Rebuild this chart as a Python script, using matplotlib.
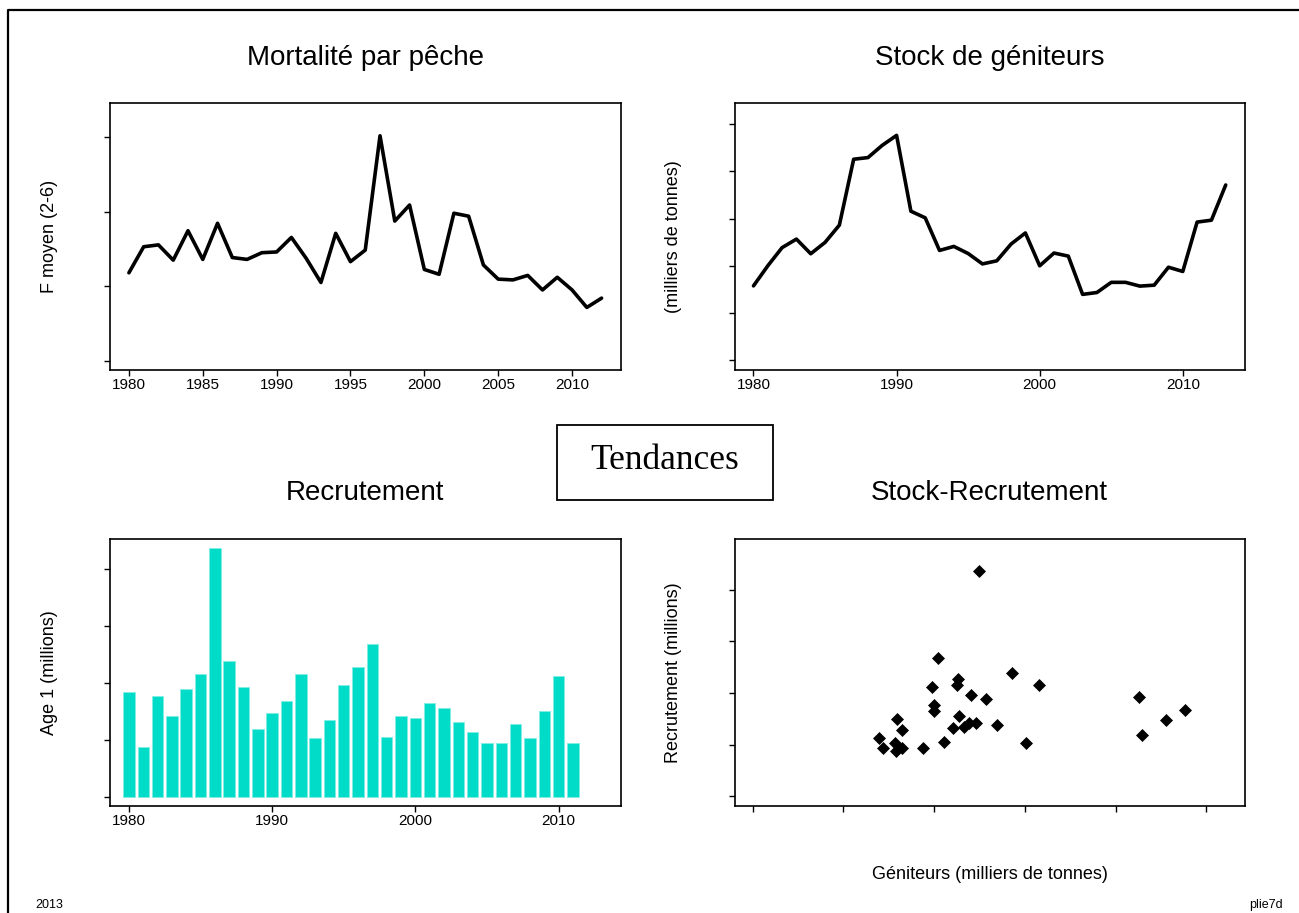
import numpy as np
import matplotlib
matplotlib.use("Agg")
import matplotlib.pyplot as plt
from matplotlib.lines import Line2D
from matplotlib.patches import Rectangle

plt.rcParams['font.family'] = ['Liberation Sans', 'DejaVu Sans']

# ---------------- data ----------------
years_f = list(range(1980, 2013))
f_mean = [0.436, 0.506, 0.511, 0.470, 0.549, 0.472, 0.569, 0.477, 0.472, 0.490,
          0.492, 0.531, 0.475, 0.410, 0.542, 0.466, 0.497, 0.804, 0.575, 0.618,
          0.445, 0.432, 0.596, 0.588, 0.457, 0.419, 0.417, 0.429, 0.390, 0.424,
          0.390, 0.343, 0.368]

years_ssb = list(range(1980, 2014))
ssb = [7.15, 8.00, 8.77, 9.13, 8.51, 8.99, 9.72, 12.51, 12.58, 13.10,
       13.52, 10.31, 10.03, 8.65, 8.82, 8.52, 8.08, 8.21, 8.92, 9.39,
       8.00, 8.54, 8.41, 6.79, 6.87, 7.30, 7.30, 7.14, 7.18, 7.94,
       7.76, 9.85, 9.93, 11.42]

years_rec = list(range(1980, 2012))
recruits = [18.36, 8.68, 17.65, 14.13, 18.89, 21.58, 43.70, 23.87, 19.24, 11.91,
            14.72, 16.77, 21.64, 10.26, 13.49, 19.65, 22.76, 26.86, 10.44, 14.19,
            13.78, 16.48, 15.60, 13.14, 11.38, 9.44, 9.44, 12.79, 10.32, 15.01,
            21.23, 9.38]

f_ticks = [0.2, 0.4, 0.6, 0.8]
ssb_ticks = [4, 6, 8, 10, 12, 14]
rec_ticks = [0, 10, 20, 30, 40]
year_ticks_5 = [1980, 1985, 1990, 1995, 2000, 2005, 2010]
year_ticks_10 = [1980, 1990, 2000, 2010]

titles = ["Mortalité par pêche", "Stock de géniteurs", "Recrutement", "Stock-Recrutement"]
ylabels = ["F moyen (2-6)", "(milliers de tonnes)", "Age 1 (millions)", "Recrutement (millions)"]
xlabel_sr = "Géniteurs (milliers de tonnes)"
center_text = "Tendances"
foot_left = "2013"
foot_right = "plie7d"

# ---------------- layout ----------------
W, H = 1299, 913
fig = plt.figure(figsize=(W / 100, H / 100), dpi=100)

def ax_at(l, t, r, b):
    return fig.add_axes([l / W, 1 - b / H, (r - l) / W, (b - t) / H])

def fx(x):
    return x / W

def fy(y):
    return 1 - y / H

def style(ax):
    for s in ax.spines.values():
        s.set_linewidth(1.2)
        s.set_color('black')
    ax.tick_params(axis='both', direction='out', length=4, width=1.0,
                   labelsize=11, color='black', pad=2)
    ax.tick_params(axis='y', labelleft=False)

LW = 2.6
L1, R1 = 110, 620.5
L2, R2 = 734.6, 1244.6
T1, B1 = 103, 370
T2, B2 = 539, 806
C1 = (L1 + R1) / 2
C2 = (L2 + R2) / 2

# Panel 1: Fishing mortality
ax1 = ax_at(L1, T1, R1, B1)
ax1.plot(years_f, f_mean, color='black', lw=LW, solid_joinstyle='round', solid_capstyle='round')
ax1.set_xlim(1978.72, 2013.28)
ax1.set_ylim(0.175, 0.892)
ax1.set_xticks(year_ticks_5)
ax1.set_yticks(f_ticks)
style(ax1)

# Panel 2: SSB
ax2 = ax_at(L2, T1, R2, B1)
ax2.plot(years_ssb, ssb, color='black', lw=LW, solid_joinstyle='round', solid_capstyle='round')
ax2.set_xlim(1978.68, 2014.32)
ax2.set_ylim(3.59, 14.89)
ax2.set_xticks(year_ticks_10)
ax2.set_yticks(ssb_ticks)
style(ax2)

# Panel 3: Recruitment bars
ax3 = ax_at(L1, T2, R1, B2)
ax3.bar(years_rec, recruits, width=0.8, color='#00DCC8', edgecolor='#7FEDE3', linewidth=0.6)
ax3.set_xlim(1978.68, 2014.32)
ax3.set_ylim(-1.64, 45.34)
ax3.set_xticks(year_ticks_10)
ax3.set_yticks(rec_ticks)
style(ax3)

# Panel 4: Stock-recruitment (R(y) vs SSB(y-1))
sr_x = [ssb[years_ssb.index(y - 1)] for y in years_rec[1:]]
sr_y = recruits[1:]
ax4 = ax_at(L2, T2, R2, B2)
ax4.plot(sr_x, sr_y, linestyle='none', marker='D', markersize=6,
         color='black', markeredgewidth=0.5)
ax4.set_xlim(3.6, 14.84)
ax4.set_ylim(-1.87, 49.8)
ax4.set_xticks(ssb_ticks)
ax4.set_yticks(rec_ticks)
style(ax4)
ax4.tick_params(axis='x', labelbottom=False)

# Titles
title_fs = 20
fig.text(fx(C1), fy(58), titles[0], ha='center', va='center', fontsize=title_fs)
fig.text(fx(C2), fy(58), titles[1], ha='center', va='center', fontsize=title_fs)
fig.text(fx(C1), fy(493), titles[2], ha='center', va='center', fontsize=title_fs)
fig.text(fx(C2), fy(493), titles[3], ha='center', va='center', fontsize=title_fs)

# Y labels
lab_fs = 13
fig.text(fx(L1 - 61), fy((T1 + B1) / 2), ylabels[0], rotation=90, ha='center', va='center', fontsize=lab_fs)
fig.text(fx(L2 - 61), fy((T1 + B1) / 2), ylabels[1], rotation=90, ha='center', va='center', fontsize=lab_fs)
fig.text(fx(L1 - 61), fy((T2 + B2) / 2), ylabels[2], rotation=90, ha='center', va='center', fontsize=lab_fs)
fig.text(fx(L2 - 61), fy((T2 + B2) / 2), ylabels[3], rotation=90, ha='center', va='center', fontsize=lab_fs)
fig.text(fx(C2), fy(874), xlabel_sr, ha='center', va='center', fontsize=lab_fs)

# Centre box
fig.patches.append(Rectangle((fx(557), fy(500)), (773 - 557) / W, (500 - 425) / H,
                             transform=fig.transFigure, fill=False, edgecolor='black', lw=1.3))
fig.text(fx(665), fy(460), center_text, ha='center', va='center', fontsize=25.5,
         family=['Liberation Serif', 'DejaVu Serif'])

# Footer
fig.text(fx(49), fy(905), foot_left, ha='center', va='center', fontsize=9)
fig.text(fx(1266), fy(905), foot_right, ha='center', va='center', fontsize=9)

# Outer frame (top and left edges)
fig.add_artist(Line2D([fx(7.5), fx(7.5), fx(1305)], [fy(920), fy(10), fy(10)],
                      transform=fig.transFigure, color='black', lw=1.6))

fig.savefig("out.png", dpi=100)
